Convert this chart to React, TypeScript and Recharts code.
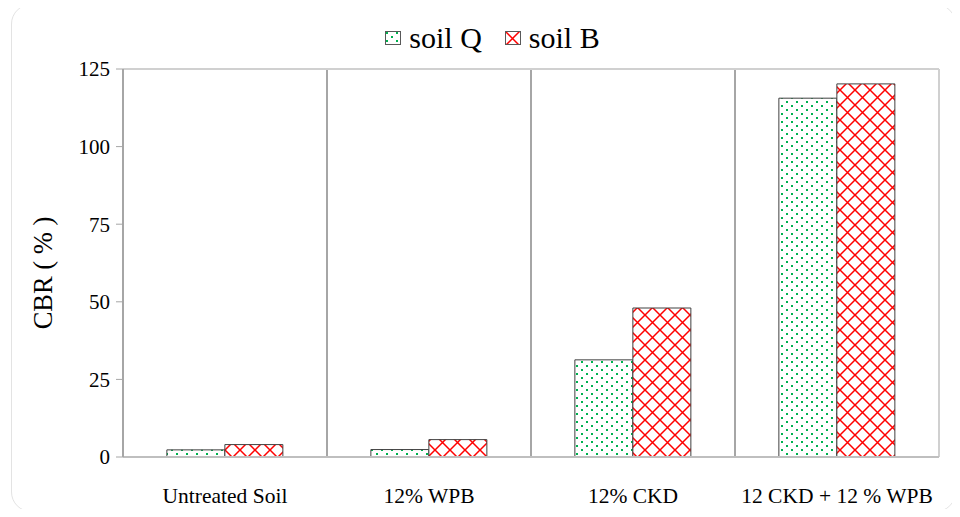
import React from "react";
import {
  BarChart,
  Bar,
  XAxis,
  YAxis,
  CartesianGrid,
  Label,
} from "recharts";

const categories = [
  "Untreated Soil",
  "12% WPB",
  "12% CKD",
  "12 CKD + 12 % WPB",
];
const soilQ = [2.3, 2.4, 31.3, 115.6];
const soilB = [4.0, 5.6, 48.0, 120.2];
const yTicks = [0, 25, 50, 75, 100, 125];
const seriesNames = ["soil Q", "soil B"];

const FONT = "'Liberation Serif', 'Times New Roman', serif";

const chartData = categories.map((name, i) => ({
  name,
  soilQ: soilQ[i],
  soilB: soilB[i],
}));

// pattern fills like the Excel ones
function Patterns({ prefix }: { prefix: string }) {
  return (
    <defs>
      <pattern
        id={`${prefix}-dots`}
        width="10"
        height="8"
        patternUnits="userSpaceOnUse"
      >
        <rect width="10" height="8" fill="#ffffff" />
        <rect x="1" y="1" width="2" height="2" fill="#00b050" />
        <rect x="6" y="5" width="2" height="2" fill="#00b050" />
      </pattern>
      <pattern
        id={`${prefix}-lattice`}
        width="15"
        height="15"
        patternUnits="userSpaceOnUse"
      >
        <rect width="15" height="15" fill="#ffffff" />
        <path
          d="M0,0 L15,15 M15,0 L0,15 M-1,14 L1,16 M14,-1 L16,1"
          stroke="#ff0000"
          strokeWidth="1.5"
        />
      </pattern>
    </defs>
  );
}

function LegendBox() {
  const fills = ["lg-dots", "lg-lattice"];
  return (
    <div
      style={{
        position: "absolute",
        top: 23,
        left: 0,
        width: 960,
        display: "flex",
        justifyContent: "center",
        fontFamily: FONT,
        fontSize: 30,
        color: "#000",
        paddingLeft: 25,
        boxSizing: "border-box",
      }}
    >
      <svg width="0" height="0" style={{ position: "absolute" }}>
        <Patterns prefix="lg" />
      </svg>
      {seriesNames.map((s, i) => (
        <div
          key={s}
          style={{
            display: "flex",
            alignItems: "center",
            marginRight: i === 0 ? 23 : 0,
          }}
        >
          <svg width="16" height="14" style={{ marginRight: 8 }}>
            <rect
              x="0.5"
              y="0.5"
              width="15"
              height="13"
              fill={`url(#${fills[i]})`}
              stroke="#595959"
            />
          </svg>
          <span style={{ lineHeight: "30px", fontFamily: FONT }}>{s}</span>
        </div>
      ))}
    </div>
  );
}

export default function App() {
  return (
    <div
      style={{
        position: "relative",
        width: 960,
        height: 517,
        margin: -8,
        background: "#fff",
      }}
    >
      <div
        style={{
          position: "absolute",
          left: 11,
          top: 4,
          width: 943,
          height: 506,
          border: "1px solid #e3e3e3",
          borderRadius: 20,
        }}
      />
      <LegendBox />
      <div style={{ position: "absolute", left: 0, top: 0 }}>
        <BarChart
          width={960}
          height={517}
          data={chartData}
          margin={{ top: 69, right: 21, bottom: 10, left: 0 }}
          barCategoryGap="21.5%"
          barGap={0}
        >
          <Patterns prefix="ch" />
          <CartesianGrid
            horizontal={false}
            stroke="#a6a6a6"
            strokeWidth={2}
            verticalCoordinatesGenerator={({ offset }: any) => [
              offset.left + offset.width / 4,
              offset.left + offset.width / 2,
              offset.left + (offset.width * 3) / 4,
            ]}
          />
          <CartesianGrid
            stroke="#d0d0d0"
            strokeWidth={2}
            horizontalCoordinatesGenerator={({ offset }: any) => [offset.top]}
            verticalCoordinatesGenerator={({ offset }: any) => [
              offset.left + offset.width,
            ]}
          />
          <XAxis
            dataKey="name"
            height={50}
            tickLine={false}
            tickMargin={25}
            axisLine={{ stroke: "#bfbfbf", strokeWidth: 2 }}
            tick={{ fill: "#000", fontSize: 21.5, fontFamily: FONT }}
          />
          <YAxis
            width={123}
            domain={[0, 125]}
            ticks={yTicks}
            tickSize={7}
            tickMargin={6}
            axisLine={{ stroke: "#a6a6a6", strokeWidth: 2 }}
            tickLine={{ stroke: "#a6a6a6", strokeWidth: 1 }}
            tick={{ fill: "#000", fontSize: 21, fontFamily: FONT }}
          >
            <Label
              value="CBR ( % )"
              angle={-90}
              position="center"
              dx={-19}
              dy={10}
              style={{
                textAnchor: "middle",
                fontSize: 26.5,
                fontFamily: FONT,
                fill: "#000",
              }}
            />
          </YAxis>
          <Bar
            dataKey="soilQ"
            name={seriesNames[0]}
            fill="url(#ch-dots)"
            stroke="#404040"
            strokeWidth={1}
            isAnimationActive={false}
          />
          <Bar
            dataKey="soilB"
            name={seriesNames[1]}
            fill="url(#ch-lattice)"
            stroke="#404040"
            strokeWidth={1}
            isAnimationActive={false}
          />
        </BarChart>
      </div>
    </div>
  );
}
